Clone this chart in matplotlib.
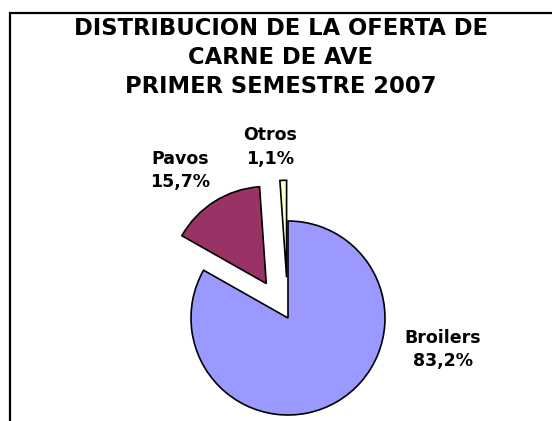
import matplotlib
matplotlib.use("Agg")
import matplotlib.pyplot as plt
from matplotlib.patches import Rectangle

# data
labels = ["Broilers", "Pavos", "Otros"]
shares = [83.2, 15.7, 1.1]
colors = ["#9999FF", "#993366", "#FFFFCC"]
explode_frac = [0, 0.42, 0.42]
title = "DISTRIBUCION DE LA OFERTA DE\nCARNE DE AVE\nPRIMER SEMESTRE 2007"

W, H = 552, 421
R = 97
fig = plt.figure(figsize=(W / 100, H / 100), dpi=100)
ax = fig.add_axes([0, 0, 1, 1])

# pie in pixel units (y up); explode is in data units here
ax.pie(shares, colors=colors, explode=[e * R for e in explode_frac],
       startangle=90, counterclock=False,
       center=(288, H - 318), radius=R,
       wedgeprops=dict(edgecolor="black", linewidth=1.2))
ax.set_xlim(0, W)
ax.set_ylim(0, H)
ax.set_aspect("equal")
ax.axis("off")

# chart frame (runs off the right and bottom edges)
ax.add_patch(Rectangle((9.5, -20), 700, H - 12.5 + 20, fill=False,
                       edgecolor="black", linewidth=1.6, clip_on=False))

ax.text(281, H - 57.5, title, ha="center", va="center", fontsize=16.3,
        fontweight="bold", linespacing=1.33)

# label positions (pixels from top)
label_pos = [(443, 349.5), (180, 170.5), (270, 147)]
for name, v, (x, y) in zip(labels, shares, label_pos):
    txt = name + "\n" + f"{v:.1f}".replace(".", ",") + "%"
    ax.text(x, H - y, txt, ha="center", va="center", fontsize=12.5,
            fontweight="bold", linespacing=1.4)

fig.savefig("out.png", dpi=100)
